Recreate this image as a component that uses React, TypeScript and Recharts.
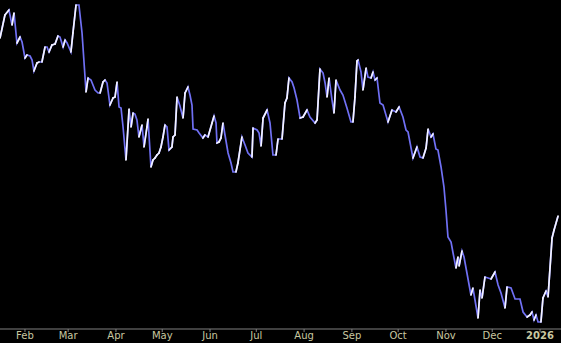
import React from 'react';
import { LineChart, Line, XAxis, YAxis } from 'recharts';

// day = days since 2025-01-01
const days = [
  14.8, 18.0, 20.6, 22.6, 23.9, 25.8, 27.8, 29.1, 31.0, 32.3, 34.3, 35.6, 36.8, 38.8, 40.1, 42.0,
  44.0, 45.3, 46.6, 48.5, 50.5, 52.4, 53.7, 55.7, 57.0, 58.3, 60.8, 62.1, 64.1, 66.0, 68.0, 70.6,
  71.9, 73.8, 76.4, 78.4, 79.7, 81.6, 82.9, 84.2, 86.1, 88.1, 89.4, 90.7, 92.0, 93.3, 94.6, 96.5,
  98.5, 99.8, 101.1, 102.3, 103.6, 104.9, 106.9, 108.2, 110.1, 110.8, 112.7, 114.0, 115.3, 116.6,
  117.9, 119.2, 120.5, 121.8, 123.1, 124.4, 126.3, 127.0, 128.3, 129.6, 131.5, 133.5, 134.8, 136.7,
  138.0, 139.3, 140.0, 142.6, 143.9, 146.4, 147.7, 149.7, 152.3, 153.6, 154.9, 155.5, 156.8, 158.1,
  159.4, 160.7, 162.7, 164.6, 165.9, 167.8, 169.1, 171.7, 173.7, 175.6, 178.2, 178.9, 181.5, 182.8,
  184.1, 185.4, 188.0, 189.9, 191.8, 193.8, 195.1, 197.7, 199.6, 200.9, 202.2, 204.2, 205.5, 207.4,
  209.4, 211.3, 213.9, 215.8, 219.1, 220.4, 222.3, 224.3, 225.6, 226.9, 228.2, 230.1, 231.4, 232.7,
  235.3, 237.2, 239.8, 242.4, 243.7, 245.0, 246.3, 247.0, 248.9, 250.2, 252.2, 253.4, 255.4, 256.7,
  258.0, 259.3, 261.2, 263.2, 266.4, 269.0, 271.6, 273.6, 276.1, 278.1, 279.4, 282.6, 285.2, 287.2,
  289.1, 291.1, 292.4, 294.3, 295.6, 297.5, 298.8, 300.8, 302.7, 304.0, 305.3, 307.3, 308.6, 310.5,
  311.8, 312.5, 314.4, 315.7, 317.6, 320.2, 321.5, 324.8, 326.1, 327.4, 329.3, 331.3, 333.2, 335.8,
  337.8, 339.7, 342.3, 343.6, 346.2, 348.8, 352.0, 354.0, 356.6, 358.5, 359.8, 361.1, 362.4, 363.7,
  365.6, 366.9, 368.9, 370.2, 372.8, 374.1, 376.7,
];

const prices = [
  49.1, 51.4, 51.9, 50.4, 51.6, 48.6, 49.2, 48.7, 47.1, 47.4, 47.3, 46.9, 45.8, 46.6, 46.7, 46.7,
  48.2, 48.2, 47.7, 48.4, 48.5, 49.3, 49.2, 48.2, 48.9, 48.6, 47.7, 49.6, 52.4, 52.4, 49.6, 43.7,
  45.1, 44.9, 43.9, 43.6, 43.6, 44.7, 44.9, 44.6, 42.4, 43.1, 43.2, 44.7, 42.2, 42.1, 40.2, 36.9,
  42.0, 40.2, 41.6, 41.5, 40.9, 39.2, 40.4, 38.2, 40.2, 41.0, 36.2, 36.9, 37.1, 37.4,
  37.6, 38.2, 39.2, 40.4, 40.2, 37.9, 38.2, 39.2, 39.4, 43.2, 42.3, 41.1, 43.6, 44.2,
  43.4, 42.4, 40.0, 39.9, 39.6, 39.1, 39.4, 39.2, 40.6, 41.3, 40.6, 38.6, 38.7, 39.1,
  40.6, 39.4, 37.6, 36.6, 35.7, 35.7, 36.6, 39.2, 38.4, 37.6, 37.2, 40.1, 39.9, 39.6,
  38.3, 41.1, 41.9, 40.6, 37.4, 37.4, 39.0, 39.0, 42.6, 43.1, 45.1, 44.7, 44.1, 42.9,
  41.1, 41.2, 41.9, 41.2, 40.6, 40.9, 46.0, 45.6, 44.6, 43.2, 45.1, 42.9, 41.6, 44.9,
  43.9, 43.4, 42.1, 40.7, 40.7, 43.2, 46.8, 46.9, 45.7, 43.9, 46.1, 45.2, 45.1, 45.7,
  44.9, 45.1, 42.6, 42.4, 40.7, 41.9, 41.7, 42.2, 41.2, 39.9, 39.7, 37.1, 38.2, 37.2,
  37.1, 38.1, 40.0, 39.2, 39.5, 38.0, 37.9, 36.2, 34.2, 31.9, 29.2, 28.7, 27.6, 26.1,
  27.2, 26.3, 27.8, 27.2, 25.6, 23.4, 24.1, 21.1, 23.9, 23.1, 25.2, 25.1, 25.0, 25.7,
  24.4, 23.6, 22.1, 24.2, 24.1, 23.0, 23.0, 21.7, 21.2, 21.4, 21.7, 20.9, 21.4, 20.7,
  20.7, 23.1, 23.8, 23.2, 29.1, 29.9, 31.3,
];

const monthTicks = [31, 59, 90, 120, 151, 181, 212, 243, 273, 304, 334, 365];
const monthLabels = ['Feb', 'Mar', 'Apr', 'May', 'Jun', 'Jul', 'Aug', 'Sep', 'Oct', 'Nov', 'Dec', '2026'];

const data = days.map((d, i) => ({ day: d, price: prices[i] }));

const UP = '#f4f4ff';
const DOWN = '#7070f4';

// draws the rising segments in white on top of the blue line
function UpSegment(props: any) {
  const { cx, cy, index, points } = props;
  if (!points || index >= points.length - 1) return <g key={index} />;
  const next = points[index + 1];
  if (next.y >= cy) return <g key={index} />;
  return (
    <line
      key={index}
      x1={cx}
      y1={cy}
      x2={next.x}
      y2={next.y}
      stroke={UP}
      strokeWidth={1.7}
      strokeLinecap="round"
    />
  );
}

function MonthTick(props: any) {
  const { x, y, payload } = props;
  const idx = monthTicks.indexOf(payload.value);
  const label = monthLabels[idx] ?? '';
  return (
    <text
      x={x}
      y={y}
      dy="0.71em"
      textAnchor="middle"
      fill="#c8c8a0"
      fontSize={10}
      fontFamily="DejaVu Sans"
      fontWeight={label === '2026' ? 'bold' : 'normal'}
    >
      {label}
    </text>
  );
}

export default function App() {
  return (
    <div style={{ position: 'fixed', left: 0, top: 0, width: 561, height: 343, background: '#000' }}>
      <LineChart width={561} height={343} data={data} margin={{ top: 0, right: 0, bottom: 0, left: 0 }}>
        <XAxis
          dataKey="day"
          type="number"
          domain={[14.8, 378.6]}
          ticks={monthTicks}
          tick={<MonthTick />}
          height={14}
          stroke="#808080"
          tickSize={3}
          tickMargin={0}
          allowDataOverflow
        />
        <YAxis hide domain={[20, 52.9]} allowDataOverflow />
        <Line
          type="linear"
          dataKey="price"
          stroke={DOWN}
          strokeWidth={1.7}
          dot={<UpSegment />}
          activeDot={false}
          isAnimationActive={false}
        />
      </LineChart>
    </div>
  );
}
